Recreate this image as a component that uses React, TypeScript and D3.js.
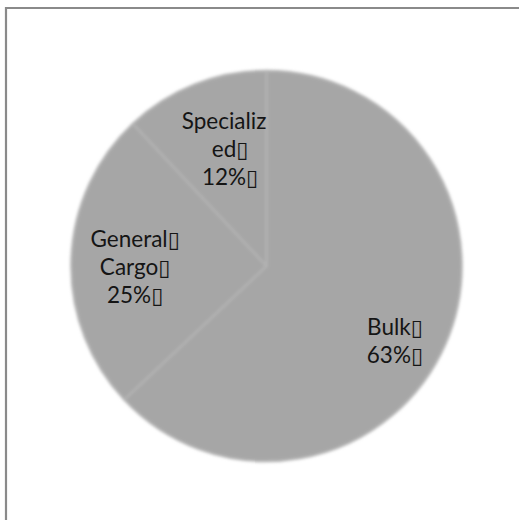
import React, { useEffect, useRef } from "react";
import * as d3 from "d3";

const categories = ["Bulk", "General Cargo", "Specialized"];
const values = [63, 25, 12];
const labelLines = [
  ["Bulk", "63%"],
  ["General", "Cargo", "25%"],
  ["Specializ", "ed", "12%"],
];

const W = 519;
const H = 520;
const CX = 266.5;
const CY = 266;
const R = 195;
const FONT = "Lato, 'Noto Sans', sans-serif";
const FS = 22.5;
const LINE = 28.3;
// per-slice label nudges (layout only)
const nudge: Record<string, [number, number]> = {
  Bulk: [4, 25],
  "General Cargo": [-8.5, 6],
  Specialized: [5, 4],
};

export default function App() {
  const ref = useRef<SVGSVGElement>(null);
  useEffect(() => {
    const svg = d3.select(ref.current);
    svg.selectAll("*").remove();

    const defs = svg.append("defs");
    defs
      .append("filter")
      .attr("id", "soft")
      .attr("x", "-10%")
      .attr("y", "-10%")
      .attr("width", "120%")
      .attr("height", "120%")
      .append("feGaussianBlur")
      .attr("stdDeviation", 1.8);

    // frame
    svg
      .append("path")
      .attr("d", `M6,${H + 5} L6,8 L${W + 5},8`)
      .attr("fill", "none")
      .attr("stroke", "#8a8a8a")
      .attr("stroke-width", 2.2);

    const data = categories.map((c, i) => ({ c, v: values[i], lines: labelLines[i] }));
    const pie = d3
      .pie<any>()
      .value((d) => d.v)
      .sort(null);
    const arcs = pie(data);
    const arc = d3.arc<any>().innerRadius(0).outerRadius(R);

    const g = svg
      .append("g")
      .attr("transform", `translate(${CX},${CY})`)
      .attr("filter", "url(#soft)");
    g.selectAll("path.slice")
      .data(arcs)
      .join("path")
      .attr("class", "slice")
      .attr("d", arc as any)
      .attr("fill", "#a6a6a6")
      .attr("stroke", "#b2b2b2")
      .attr("stroke-width", 2.5)
      .attr("stroke-linejoin", "round");

    const labelArc = d3.arc<any>().innerRadius(129).outerRadius(129);
    const lg = svg.append("g").attr("transform", `translate(${CX},${CY})`);
    arcs.forEach((a) => {
      const [x0, y0] = labelArc.centroid(a);
      const [nx, ny] = nudge[a.data.c];
      const x = x0 + nx;
      const y = y0 + ny;
      const lines: string[] = a.data.lines;
      const n = lines.length;
      lines.forEach((ln, i) => {
        const baseY = y + 7 + (i - (n - 1) / 2) * LINE;
        const t = lg
          .append("text")
          .attr("y", baseY)
          .attr("font-family", FONT)
          .attr("font-size", FS)
          .attr("fill", "#151515");
        t.append("tspan").text(ln);
        const w = (t.node() as SVGTextElement).getComputedTextLength();
        t.attr("x", x - w / 2);
        if (!(a.data.c === "Specialized" && i === 0)) {
          t.append("tspan")
            .attr("font-family", "DejaVu Sans")
            .attr("font-size", 22)
            .attr("dx", 0)
            .text("\u25AF");
        }
      });
    });
  }, []);
  return (
    <svg
      ref={ref}
      width={W}
      height={H}
      style={{ position: "absolute", left: 0, top: 0, background: "#fff" }}
    />
  );
}
